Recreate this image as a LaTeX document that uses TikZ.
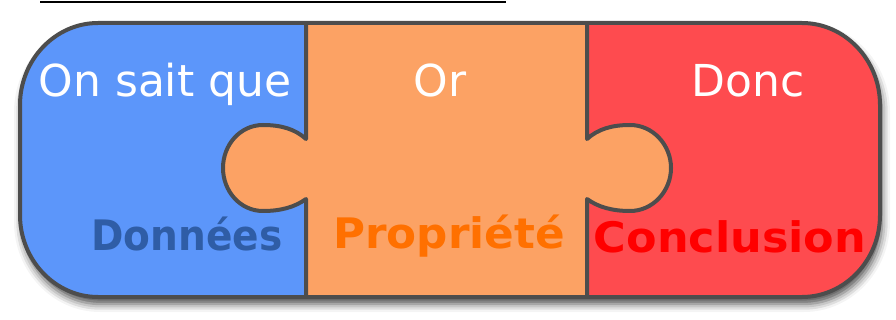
\documentclass[tikz,border=0pt]{standalone}
\usepackage{fontspec}
\setmainfont{DejaVu Sans}
\usetikzlibrary{shadows.blur}
\definecolor{pblue}{HTML}{5C96FA}
\definecolor{porange}{HTML}{FCA264}
\definecolor{pred}{HTML}{FE4B4F}
\definecolor{pline}{HTML}{4D4D4D}
\definecolor{tblue}{HTML}{2F5DA6}
\definecolor{torange}{HTML}{FF7000}
\definecolor{tred}{HTML}{FF0000}
\newcommand{\outerpath}{(20,105) .. controls (20,60) and (55,23) .. (98,23) -- (802,23)
  .. controls (845,23) and (880,60) .. (880,105) -- (880,215)
  .. controls (880,260) and (845,297) .. (802,297) -- (98,297)
  .. controls (55,297) and (20,260) .. (20,215) -- cycle}
\newcommand{\leftknob}{(306,139) .. controls (295,129) and (281,125) .. (263,125)
  .. controls (240,125) and (223,145) .. (223,168)
  .. controls (223,191) and (240,211) .. (263,211)
  .. controls (281,211) and (295,207) .. (306,199)}
\newcommand{\rightknob}{(587,139) .. controls (598,129) and (612,125) .. (630,125)
  .. controls (653,125) and (671,145) .. (671,168)
  .. controls (671,191) and (653,211) .. (630,211)
  .. controls (612,211) and (598,207) .. (587,199)}
\begin{document}
\begin{tikzpicture}[x=1pt,y=-1pt,
  outline/.style={draw=pline,line width=4pt,line join=round},
  toptext/.style={text=white,font=\fontsize{44}{50}\selectfont,anchor=base,inner sep=0pt},
  bottext/.style={font=\bfseries\fontsize{42}{48}\selectfont,anchor=base,inner sep=0pt}]
\useasboundingbox (0,0) rectangle (896,320);
\coordinate (la) at (40,2.5);
\coordinate (lb) at (506,2.5);
\draw[line width=2pt] (la) -- (lb);
\path[blur shadow={shadow xshift=2pt,shadow yshift=-7pt,shadow blur radius=8pt,shadow opacity=70}] \outerpath;
\begin{scope}
\clip \outerpath;
\fill[pblue] (0,0) rectangle (306,320);
\fill[porange] (306,0) rectangle (587,320);
\fill[pred] (587,0) rectangle (896,320);
\fill[porange] \leftknob -- cycle;
\fill[porange] \rightknob -- cycle;
\end{scope}
\draw[outline] (306,23) -- \leftknob -- (306,297);
\draw[outline] (587,23) -- \rightknob -- (587,297);
\draw[outline] \outerpath;
\node[toptext] (t1) at (165,97) {On sait que};
\node[toptext] (t2) at (440,97) {Or};
\node[toptext] (t3) at (748,97) {Donc};
\node[bottext,text=tblue] (b1) at (187,251) {\scalebox{0.93}[1]{Données}};
\node[bottext,text=torange] (b2) at (449,249) {\scalebox{1.04}[1]{Propriété}};
\node[bottext,text=tred] (b3) at (730,252) {\scalebox{1.06}[1]{Conclusion}};
\end{tikzpicture}
\end{document}
